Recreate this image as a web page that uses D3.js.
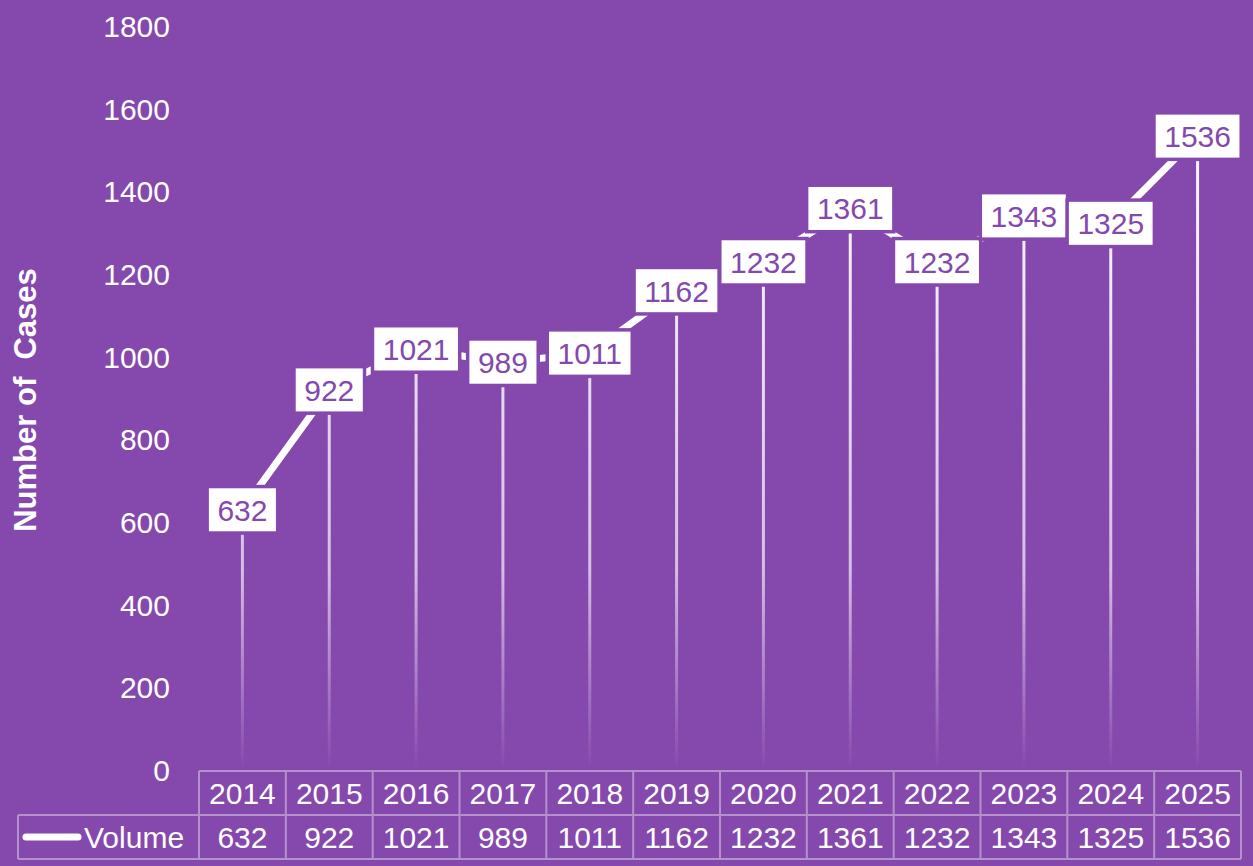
<!DOCTYPE html>
<html>
<head>
	<meta charset="utf-8">
	<title>Number of Cases</title>
	<script type="text/javascript" src="https://cdn.jsdelivr.net/npm/d3@7"></script>
	<style>
		body {
			margin: 0;
			background: #8548ad;
			font-family: "Liberation Sans", Arial, sans-serif;
		}
	</style>
</head>
<body>
	<div id="chart"></div>
	<script>
		// data
		const years = ["2014", "2015", "2016", "2017", "2018", "2019", "2020", "2021", "2022", "2023", "2024", "2025"];
		const volume = [632, 922, 1021, 989, 1011, 1162, 1232, 1361, 1232, 1343, 1325, 1536];
		const yTicks = [0, 200, 400, 600, 800, 1000, 1200, 1400, 1600, 1800];
		const seriesName = "Volume";
		const yLabel = "Number of  Cases";

		const width = 1253;
		const height = 866;
		const bg = "#8548ad";
		const gridColor = "#b591cc";
		const fontSize = "30px";
		const marginLeft = 199, marginRight = 12, marginTop = 27, plotBottom = 771;
		const rowH = 44;

		const svg = d3.select("#chart").append("svg")
			.attr("width", width)
			.attr("height", height)
			.attr("viewBox", [0, 0, width, height])
			.style("font-family", "Liberation Sans, Arial, sans-serif");

		svg.append("rect").attr("width", width).attr("height", height).attr("fill", bg);

		const x = d3.scaleBand().domain(years).range([marginLeft, width - marginRight]);
		const y = d3.scaleLinear().domain([0, 1800]).range([plotBottom, marginTop]);

		const defs = svg.append("defs");
		const grad = defs.append("linearGradient")
			.attr("id", "drop")
			.attr("gradientUnits", "userSpaceOnUse")
			.attr("x1", 0).attr("x2", 0)
			.attr("y1", y(1400)).attr("y2", plotBottom);
		grad.append("stop").attr("offset", 0).attr("stop-color", "#fff").attr("stop-opacity", 0.95);
		grad.append("stop").attr("offset", 0.65).attr("stop-color", "#fff").attr("stop-opacity", 0.65);
		grad.append("stop").attr("offset", 1).attr("stop-color", "#fff").attr("stop-opacity", 0);

		// y axis
		const yAxis = d3.axisLeft(y).tickValues(yTicks).tickFormat(d3.format("d")).tickSize(0).tickPadding(0);
		svg.append("g")
			.attr("transform", `translate(170,0)`)
			.call(yAxis)
			.call(g => g.select(".domain").remove())
			.call(g => g.selectAll("text")
				.attr("fill", "#fff")
				.style("font-size", fontSize)
				.style("font-family", "Liberation Sans, Arial, sans-serif"));

		svg.append("text")
			.attr("transform", `translate(36,400) rotate(-90)`)
			.attr("text-anchor", "middle")
			.attr("fill", "#fff")
			.style("font-size", "31px")
			.style("font-weight", "bold")
			.style("white-space", "pre")
			.text(yLabel);

		const cx = d => x(d) + x.bandwidth() / 2;

		// drop lines
		svg.append("g").selectAll("line")
			.data(years)
			.join("line")
			.attr("x1", cx).attr("x2", cx)
			.attr("y1", (d, i) => y(volume[i]))
			.attr("y2", plotBottom)
			.attr("stroke", "url(#drop)")
			.attr("stroke-width", 3);

		// line
		const line = d3.line()
			.x((d, i) => cx(years[i]))
			.y(d => y(d));
		svg.append("path")
			.attr("d", line(volume))
			.attr("fill", "none")
			.attr("stroke", "#fff")
			.attr("stroke-width", 7);

		// labels
		const labels = svg.append("g").selectAll("g")
			.data(volume)
			.join("g")
			.attr("transform", (d, i) => `translate(${cx(years[i])},${y(d)})`);
		labels.append("text")
			.attr("text-anchor", "middle")
			.attr("dy", "0.36em")
			.attr("fill", bg)
			.style("font-size", fontSize)
			.text(d => d)
			.each(function () {
				const b = this.getBBox();
				const g = d3.select(this.parentNode);
				g.insert("rect", "text")
					.attr("x", b.x - 12)
					.attr("y", -25)
					.attr("width", b.width + 24)
					.attr("height", 50)
					.attr("fill", bg);
				g.insert("rect", "text")
					.attr("x", b.x - 8.5)
					.attr("y", -21.5)
					.attr("width", b.width + 17)
					.attr("height", 43)
					.attr("fill", "#fff");
			});

		// data table
		const table = svg.append("g");
		const tableLeft = 18;
		const rows = [plotBottom, plotBottom + rowH, plotBottom + 2 * rowH];
		table.append("line")
			.attr("x1", marginLeft).attr("x2", width - marginRight)
			.attr("y1", rows[0]).attr("y2", rows[0]);
		table.append("line")
			.attr("x1", tableLeft).attr("x2", width - marginRight)
			.attr("y1", rows[1]).attr("y2", rows[1]);
		table.append("line")
			.attr("x1", tableLeft).attr("x2", width - marginRight)
			.attr("y1", rows[2]).attr("y2", rows[2]);
		table.append("line")
			.attr("x1", tableLeft).attr("x2", tableLeft)
			.attr("y1", rows[1]).attr("y2", rows[2]);
		table.selectAll(".col")
			.data(years.concat(["end"]))
			.join("line")
			.attr("class", "col")
			.attr("x1", (d, i) => marginLeft + i * x.bandwidth())
			.attr("x2", (d, i) => marginLeft + i * x.bandwidth())
			.attr("y1", rows[0]).attr("y2", rows[2]);
		table.selectAll("line")
			.attr("stroke", gridColor)
			.attr("stroke-width", 2);

		table.selectAll(".yr")
			.data(years)
			.join("text")
			.attr("class", "yr")
			.attr("x", cx)
			.attr("y", rows[0] + rowH / 2)
			.attr("dy", "0.36em")
			.attr("text-anchor", "middle")
			.attr("fill", "#fff")
			.style("font-size", fontSize)
			.text(d => d);
		table.selectAll(".val")
			.data(volume)
			.join("text")
			.attr("class", "val")
			.attr("x", (d, i) => cx(years[i]))
			.attr("y", rows[1] + rowH / 2)
			.attr("dy", "0.36em")
			.attr("text-anchor", "middle")
			.attr("fill", "#fff")
			.style("font-size", fontSize)
			.text(d => d);

		table.append("line")
			.attr("x1", 26).attr("x2", 78)
			.attr("y1", rows[1] + rowH / 2).attr("y2", rows[1] + rowH / 2)
			.attr("stroke", "#fff")
			.attr("stroke-width", 7)
			.attr("stroke-linecap", "round");
		table.append("text")
			.attr("x", 84)
			.attr("y", rows[1] + rowH / 2)
			.attr("dy", "0.36em")
			.attr("fill", "#fff")
			.style("font-size", fontSize)
			.text(seriesName);
	</script>
</body>
</html>
